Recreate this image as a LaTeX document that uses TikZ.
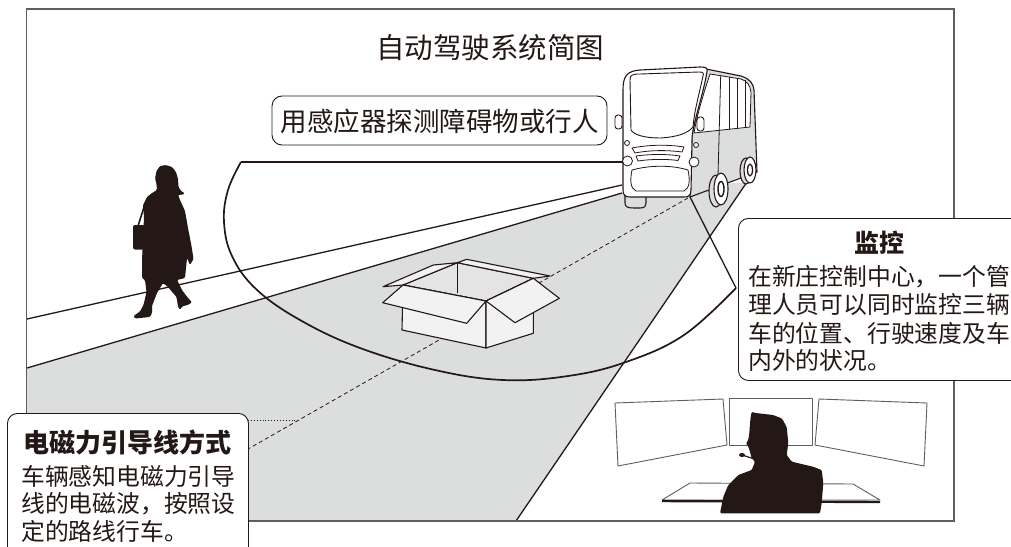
\documentclass[tikz,border=0pt]{standalone}
\usepackage{fontspec}
\setmainfont{Noto Sans CJK SC}
\usetikzlibrary{calc}
\definecolor{ink}{HTML}{231815}
\definecolor{roadgray}{HTML}{DCDDDD}
\definecolor{boxface}{HTML}{F2F2F2}
\definecolor{boxinner}{HTML}{E4E4E4}
\definecolor{framegray}{HTML}{5E5E5E}
\tikzset{
  outline/.style={draw=ink, line width=1.1pt, line join=round},
  fineline/.style={draw=ink, line width=0.8pt, line join=round},
  rangeline/.style={draw=ink, line width=1.7pt, line join=round},
  silhouette/.style={fill=ink, draw=none, rounded corners=1.2pt},
  callout/.style={draw=ink, fill=white, line width=0.9pt, rounded corners=10pt, inner sep=0pt},
  headtext/.style={font=\bfseries\fontsize{26}{30}\selectfont, text=ink, inner sep=0pt},
  bodytext/.style={font=\fontsize{23.8}{28}\selectfont, text=ink, inner sep=0pt, anchor=west},
  screen/.style={draw=framegray, fill=white, line width=0.9pt, line join=round}
}
\begin{document}
\begin{tikzpicture}[x=1pt,y=-1pt]
\useasboundingbox (0,0) rectangle (1011,546);

% ---------- road surface and sidewalk ----------
\fill[roadgray] (27,368) -- (622,193) -- (747,182) -- (516,521) -- (27,521) -- cycle;
\draw[outline, line width=1.3pt] (27,319) -- (622,185);
\draw[outline, line width=1.3pt] (27,368) -- (622,193);
\draw[outline, line width=1.3pt] (747,182) -- (516,521);

% ---------- outer frame ----------
\draw[framegray, line width=1.3pt] (26.5,9) rectangle (954,521);

% ---------- guide wire (dashed) ----------
\coordinate (busfront) at (688,198);
\coordinate (wireend) at (248,449);
\coordinate (wiremark) at (297,420);
\coordinate (wirelabel) at (248,420);
\draw[ink, line width=0.8pt, dash pattern=on 4pt off 3pt] (busfront) -- (wireend);
\draw[ink, line width=0.9pt, dotted] (wirelabel) -- (wiremark);

% ---------- cardboard box obstacle ----------
\path[outline, fill=boxinner] (403,285) -- (457.3,262.7) -- (533.3,278.3) -- (486,301) -- cycle;
\path[outline, fill=boxface] (403,285) -- (383,286.7) -- (433.3,265) -- (457.3,262.7) -- cycle;
\path[outline, fill=boxface] (457.3,262.7) -- (466.7,259.3) -- (550,276) -- (533.3,278.3) -- cycle;
\draw[fineline] (457.3,262.7) -- (457.3,293);
\path[outline, fill=boxface] (403,285) -- (486,301) -- (486,348) -- (402,330) -- cycle;
\path[outline, fill=boxface] (486,301) -- (533.3,278.3) -- (533.3,333.3) -- (486,348) -- cycle;
\path[outline, fill=boxface] (403,285) -- (486,301) -- (466.7,323.3) -- (382.7,302.7) -- cycle;
\path[outline, fill=boxface] (486,301) -- (533.3,278.3) -- (559.3,298.3) -- (515,322.7) -- cycle;

% ---------- pedestrian ----------
\path[silhouette] (160,166) -- (166,165) -- (172,167) -- (176,172) -- (178,179) -- (178.5,187)
  -- (181,191) -- (185,193.5) -- (181,195) -- (178,194.5) -- (180,200) -- (185,211)
  -- (188,228) -- (191.5,246) -- (193.5,259) -- (190,265) -- (187,258) -- (186,268)
  -- (185,278) -- (177,280) -- (182,290) -- (188,298) -- (192,302) -- (189,304.5)
  -- (182,306.5) -- (180,310) -- (178,306.5) -- (176.5,297) -- (168,287) -- (163,283)
  -- (157,293) -- (152,306) -- (152,313) -- (150,317) -- (135,318.5) -- (133.5,316)
  -- (140,311.5) -- (143.5,305) -- (146.5,292) -- (145,280) -- (142,278) -- (142,260)
  -- (143,240) -- (144,217) -- (143,205) -- (147,197) -- (152,193) -- (157,190)
  -- (156.5,184) -- (155,178.5) -- (156.5,171) -- cycle;
\fill[ink, rounded corners=2pt] (133,225) rectangle (146,249.5);
\draw[ink, line width=1.6pt] (145,204) -- (138,226);

% ---------- sensing range ----------
\coordinate (rangestart) at (241,162);
\coordinate (rangebus) at (623,162);
\coordinate (rangeend) at (736,288);
\draw[rangeline] (rangebus) -- (rangestart);
\draw[rangeline] plot[smooth, tension=0.65] coordinates {(241,162) (228,190) (224,222) (232,256)
  (256,289) (300,320) (360,348) (435,370) (503,380) (568,376) (626,362) (684,335) (736,288)};

% ---------- vehicle ----------
% side panel
\path[outline, fill=roadgray] (706,69) -- (741,76) .. controls (750,79) and (753,83) .. (754,90)
  -- (757,172) -- (690,197) -- (692,135) -- cycle;
% side windows
\path[outline, fill=white, line width=0.8pt] (710,74) -- (741,79) .. controls (747,81) and (750,85) .. (751,92)
  -- (750,127) -- (694,133) .. controls (697,115) and (703,95) .. cycle;
\draw[fineline] (720.7,75) -- (718,176);
\draw[fineline] (729.3,76.5) -- (729.3,130);
\draw[fineline] (737.3,78) -- (737.3,129);
\draw[fineline] (745,80) -- (745,128);
% rear wheel
\path[outline, fill=roadgray] (746,171) ellipse [x radius=6, y radius=13];
\path[outline, fill=white] (750,170) ellipse [x radius=6, y radius=13];
\draw[outline, line width=1.3pt] (750,170) ellipse [x radius=2.5, y radius=6];
% front side wheel
\path[outline, fill=roadgray] (716,191) ellipse [x radius=7, y radius=16];
\path[outline, fill=white] (721,189) ellipse [x radius=7, y radius=16];
\draw[outline, line width=1.4pt] (721,189) ellipse [x radius=3, y radius=7.5];
% front tyre under the nose
\path[outline, fill=roadgray] (625,194) -- (625,203) .. controls (625,207) and (628,208) .. (634,208)
  -- (640,208) .. controls (645,208) and (646,206) .. (646,203) -- (646,194) -- cycle;
% front face
\path[outline, fill=white] (623,90) .. controls (623,76) and (627,71) .. (640,70) -- (700,67)
  .. controls (706,67) and (708,68) .. (707,72) .. controls (702,100) and (692,125) .. (692,140)
  -- (691,190) .. controls (691,196) and (688,197) .. (684,197) -- (630,197)
  .. controls (625,197) and (623,195) .. (623,190) -- cycle;
% windscreen
\path[outline, fill=white, line width=0.9pt] (630,80) .. controls (630,75) and (632,74) .. (640,74) -- (699,72)
  .. controls (703,72) and (704,73) .. (703,76) .. controls (699,95) and (694,112) .. (693,127)
  .. controls (688,133) and (678,137) .. (660,138) .. controls (645,138) and (634,135) .. (631,130) -- cycle;
% mirrors
\path[outline, fill=white, rounded corners=3pt, line width=0.9pt] (615,115) rectangle (622,129);
\path[outline, fill=white, rounded corners=3pt, line width=0.9pt] (697,117) rectangle (704,131);
% lamps
\draw[fineline, fill=white] (627,143) circle [radius=2.5];
\draw[fineline, fill=white] (696,145) circle [radius=2.5];
\draw[fineline, fill=white] (627.5,161) circle [radius=5];
\draw[fineline, fill=white] (694,162) circle [radius=5];
% grille
\path[fineline, fill=white] (632,148) .. controls (650,144.5) and (668,144.5) .. (684,147)
  -- (682,152) .. controls (668,150) and (650,150) .. (635,153) -- cycle;
\path[fineline, fill=white] (636,156) .. controls (650,154) and (668,154) .. (680,156)
  -- (678,160.5) .. controls (668,159) and (650,159) .. (638,161) -- cycle;
\path[fineline, fill=white] (632,170) .. controls (650,165) and (672,165) .. (688,170)
  .. controls (690,180) and (690,188) .. (684,191) -- (636,191) .. controls (630,188) and (630,180) .. (632,170) -- cycle;

% ---------- callout from vehicle to the monitoring note ----------
\coordinate (buscorner) at (690,197);
\draw[outline, line width=1.3pt] (buscorner) -- (rangeend);

% ---------- control room ----------
\path[screen] (615,403) -- (723,399) -- (727,445) -- (618,466) -- cycle;
\path[screen] (729,398) -- (812,398) -- (812,445) -- (729,445) -- cycle;
\path[screen] (819,399) -- (927,403) -- (924,466) -- (815,445) -- cycle;
\path[screen] (690,483) -- (853,484) -- (880,500) -- (662,500) -- cycle;
\draw[ink, line width=2.4pt] (662,501) -- (880,502);
\path[silhouette] (751.7,411.7) -- (755,413) -- (760,413.5) -- (773,415) -- (782,418.5) -- (786.7,427)
  -- (788.3,443) -- (786.7,455) -- (791.7,461.7) -- (813,466.7) -- (821.7,470) -- (823.3,483)
  -- (821.7,503) -- (820,513.3) -- (720,513.3) -- (723.3,496.7) -- (728.3,485) -- (738.3,475)
  -- (751.7,470) -- (755,461.7) -- (751.7,458.3) -- (750,451.7) -- (748.3,446.7) -- (746,443.3)
  -- (748.3,440) -- (749.3,433.3) -- (750,423.3) -- (750.7,416.7) -- cycle;
\draw[ink, line width=1.2pt] (742,455) -- (753,458.5);
\fill[ink] (742,455) ellipse [x radius=3, y radius=2];

% ---------- title ----------
\node[text=ink, font=\fontsize{28.5}{32}\selectfont, inner sep=0pt] (title) at (490,48) {自动驾驶系统简图};

% ---------- sensor note ----------
\node[callout, minimum width=335, minimum height=49] (sensorbox) at (439.5,120.5) {};
\node[text=ink, font=\fontsize{26.5}{30}\selectfont, inner sep=0pt] (sensortext) at (439.5,121) {用感应器探测障碍物或行人};

% ---------- monitoring note ----------
\node[callout, anchor=north west, minimum width=290, minimum height=162] (monbox) at (738,218) {};
\node[headtext, font=\bfseries\fontsize{25}{30}\selectfont] (monhead) at (879,243) {监控};
\node[bodytext] (mon1) at (748,277) {在新庄控制中心，一个管};
\node[bodytext] (mon2) at (748,305) {理人员可以同时监控三辆};
\node[bodytext] (mon3) at (748,333) {车的位置、行驶速度及车};
\node[bodytext] (mon4) at (748,360) {内外的状况。};

% ---------- guide wire note ----------
\node[callout, anchor=north west, minimum width=241, minimum height=160] (wirebox) at (7,413) {};
\node[headtext] (wirehead) at (127.5,442) {电磁力引导线方式};
\node[bodytext] (wire1) at (21,476) {车辆感知电磁力引导};
\node[bodytext] (wire2) at (21,504) {线的电磁波，按照设};
\node[bodytext] (wire3) at (21,531) {定的路线行车。};
\end{tikzpicture}
\end{document}
